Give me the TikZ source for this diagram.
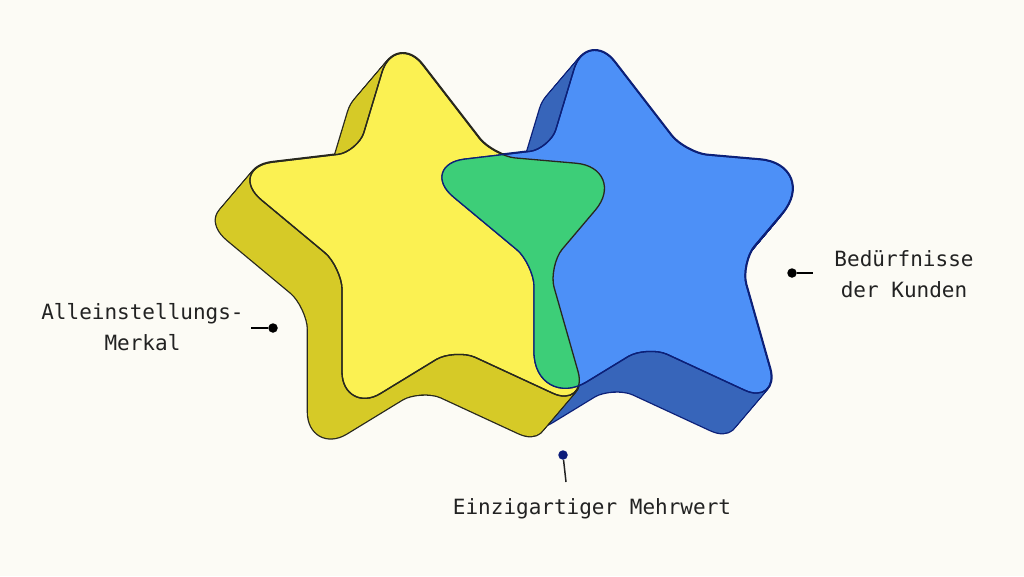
\documentclass[tikz,border=0pt]{standalone}
\usepackage{fontspec}
\setmonofont{DejaVu Sans Mono}
\usepackage{tikz}
\usetikzlibrary{calc}

\definecolor{bgcream}{RGB}{252,251,245}
\definecolor{ylwfront}{RGB}{251,241,82}
\definecolor{ylwdark}{RGB}{214,202,39}
\definecolor{ylwline}{RGB}{40,40,30}
\definecolor{bluefront}{RGB}{77,144,247}
\definecolor{bluedark}{RGB}{55,101,186}
\definecolor{blueline}{RGB}{12,32,120}
\definecolor{lensgreen}{RGB}{61,206,120}
\definecolor{txtgray}{RGB}{34,34,34}
\definecolor{pinnavy}{RGB}{12,28,122}

% corner points of one star, shifted by (#1,#2); #3/#4 = radius of lower left / right tip
\newcommand{\setstar}[4]{%
  \def\rbl{#3}\def\rrt{#4}%
  \coordinate (p0) at ({395+(#1)},{29+(#2)});
  \coordinate (p1) at ({493+(#1)},{156+(#2)});
  \coordinate (p2) at ({631+(#1)},{168+(#2)});
  \coordinate (p3) at ({548+(#1)},{266+(#2)});
  \coordinate (p4) at ({589+(#1)},{410+(#2)});
  \coordinate (p5) at ({455+(#1)},{348+(#2)});
  \coordinate (p6) at ({342+(#1)},{417+(#2)});
  \coordinate (p7) at ({342+(#1)},{267+(#2)});
  \coordinate (p8) at ({223+(#1)},{168+(#2)});
  \coordinate (p9) at ({358+(#1)},{152+(#2)});
}
\newcommand{\ylwstar}[2]{\setstar{#1}{#2}{45pt}{55pt}}
\newcommand{\bluestar}[2]{\setstar{192+(#1)}{-3+(#2)}{62pt}{63pt}}
% rounded corner at #2 between #1 and #3
\newcommand{\rc}[4]{-- ($(#2)!#4!(#1)$) .. controls ($(#2)!#4/2!(#1)$) and ($(#2)!#4/2!(#3)$) .. ($(#2)!#4!(#3)$)}
\newcommand{\starshape}{($(p0)!45pt!(p9)$) \rc{p9}{p0}{p1}{45pt} \rc{p0}{p1}{p2}{22pt}
  \rc{p1}{p2}{p3}{\rrt} \rc{p2}{p3}{p4}{22pt} \rc{p3}{p4}{p5}{40pt} \rc{p4}{p5}{p6}{22pt}
  \rc{p5}{p6}{p7}{\rbl} \rc{p6}{p7}{p8}{22pt} \rc{p7}{p8}{p9}{50pt} \rc{p8}{p9}{p0}{20pt} -- cycle}

\tikzset{
  label text/.style={font=\ttfamily\fontsize{21}{31}\selectfont, text=txtgray, align=center},
  pin dot/.style={circle, fill=#1, inner sep=0pt, minimum size=9.5pt},
  pin dot/.default=black,
  pin line/.style={line width=1.5pt, draw=#1},
  pin line/.default=black,
  outline/.style={line width=1.3pt, line join=round, draw=#1},
}

\begin{document}
\begin{tikzpicture}[x=1pt,y=-1pt]
    \useasboundingbox (0,0) rectangle (1024,576);
    \fill[bgcream] (0,0) rectangle (1024,576);

    % blue extrusion (behind)
    \foreach \k in {0,...,24} {
        \bluestar{-34*\k/24}{40*\k/24}
        \draw[line width=2.6pt, line join=round, blueline] \starshape;
    }
    \foreach \k in {0,...,24} {
        \bluestar{-34*\k/24}{40*\k/24}
        \fill[bluedark] \starshape;
    }
    % yellow extrusion
    \foreach \k in {0,...,24} {
        \ylwstar{-34*\k/24}{40*\k/24}
        \draw[line width=2.6pt, line join=round, ylwline] \starshape;
    }
    \foreach \k in {0,...,24} {
        \ylwstar{-34*\k/24}{40*\k/24}
        \fill[ylwdark] \starshape;
    }

    % front faces
    \ylwstar{0}{0}
    \filldraw[fill=ylwfront, outline=ylwline] \starshape;
    \bluestar{0}{0}
    \filldraw[fill=bluefront, outline=blueline] \starshape;

    % overlap
    \begin{scope}
        \ylwstar{0}{0}
        \clip \starshape;
        \bluestar{0}{0}
        \fill[lensgreen] \starshape;
    \end{scope}
    \ylwstar{0}{0}
    \draw[outline=ylwline] \starshape;
    \bluestar{0}{0}
    \draw[outline=blueline] \starshape;

    % labels
    \node[label text] (usp) at (142.5,327.5) {Alleinstellungs-\\Merkal};
    \node[label text] (needs) at (904,274) {Bedürfnisse\\der Kunden};
    \node[label text] (value) at (592,509) {Einzigartiger Mehrwert};

    \node[pin dot] (uspdot) at (273,328) {};
    \coordinate (uspend) at (251,328);
    \draw[pin line] (uspdot) -- (uspend);

    \node[pin dot] (needsdot) at (792,273) {};
    \coordinate (needsend) at (813,273);
    \draw[pin line] (needsdot) -- (needsend);

    \node[pin dot=pinnavy] (valuedot) at (563,455) {};
    \coordinate (valueend) at (566,482);
    \draw[pin line=txtgray] (valuedot) -- (valueend);
\end{tikzpicture}
\end{document}
